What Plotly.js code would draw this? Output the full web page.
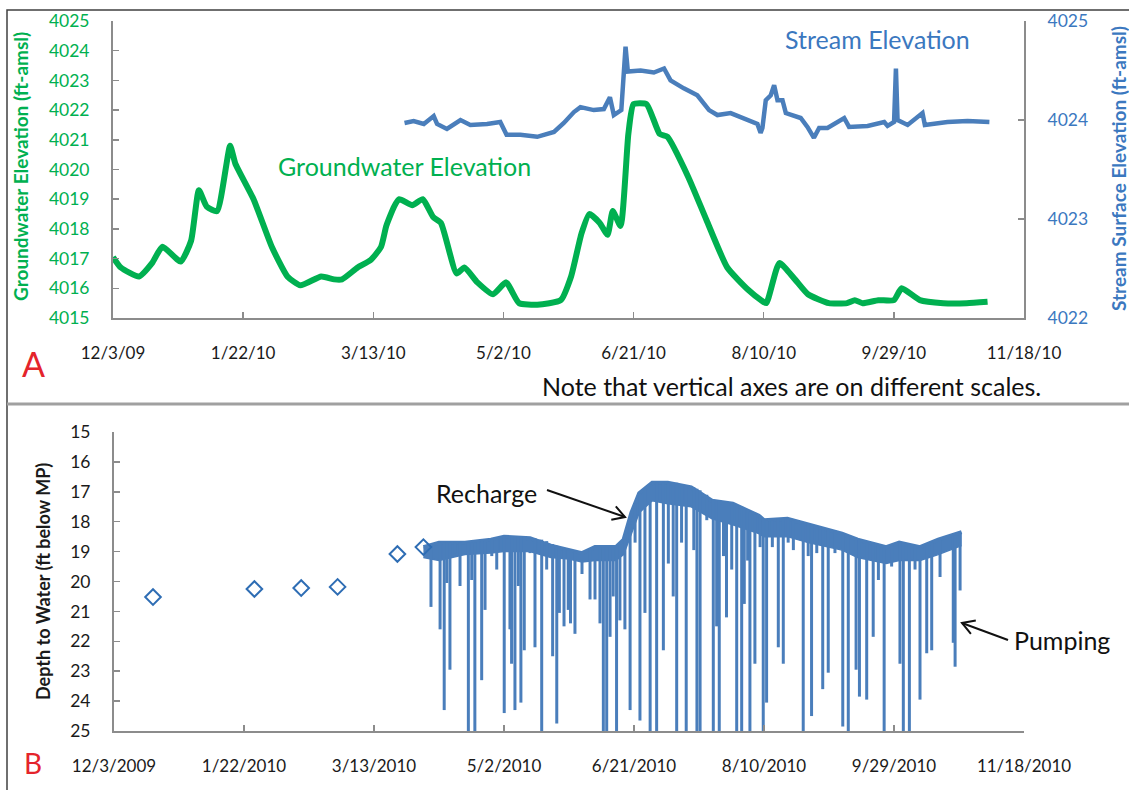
<!DOCTYPE html>
<html><head><meta charset="utf-8">
<script src="https://cdn.plot.ly/plotly-3.0.1.min.js"></script>
<style>html,body{margin:0;padding:0;background:#fff}#chart{width:1129px;height:790px}</style>
</head><body><div id="chart"></div><script>
// ---------- Panel A: groundwater elevation (left axis) ----------
var gwDates = ['2009-12-03','2009-12-06','2009-12-13','2009-12-18','2009-12-22','2009-12-29','2010-01-02','2010-01-05','2010-01-08','2010-01-12','2010-01-17','2010-01-19','2010-01-26','2010-02-02','2010-02-08','2010-02-13','2010-02-21','2010-02-26','2010-03-01','2010-03-07','2010-03-12','2010-03-16','2010-03-18','2010-03-21','2010-03-23','2010-03-28','2010-04-01','2010-04-05','2010-04-08','2010-04-14','2010-04-17','2010-04-22','2010-04-28','2010-05-03','2010-05-08','2010-05-15','2010-05-24','2010-05-28','2010-06-01','2010-06-04','2010-06-08','2010-06-11','2010-06-13','2010-06-16','2010-06-19','2010-06-21','2010-06-26','2010-07-01','2010-07-04','2010-07-12','2010-07-19','2010-07-27','2010-08-04','2010-08-09','2010-08-11','2010-08-16','2010-08-22','2010-08-27','2010-09-04','2010-09-11','2010-09-14','2010-09-17','2010-09-23','2010-09-29','2010-10-02','2010-10-09','2010-10-18','2010-10-27','2010-11-04'];
var gwElev = [4017.05,4016.7,4016.4,4016.85,4017.4,4016.9,4017.6,4019.3,4018.75,4018.6,4020.8,4020.2,4019.0,4017.4,4016.4,4016.1,4016.4,4016.3,4016.3,4016.7,4016.95,4017.4,4018.1,4018.75,4019.0,4018.8,4019.0,4018.4,4018.2,4016.5,4016.7,4016.2,4015.8,4016.2,4015.5,4015.45,4015.6,4016.4,4017.85,4018.5,4018.2,4017.8,4018.6,4018.1,4021.2,4022.2,4022.2,4021.2,4021.1,4019.75,4018.3,4016.7,4015.95,4015.6,4015.5,4016.85,4016.3,4015.8,4015.5,4015.5,4015.6,4015.5,4015.6,4015.6,4016.0,4015.6,4015.5,4015.5,4015.55];

// ---------- Panel A: stream surface elevation (right axis) ----------
var streamDates = ['2010-03-25','2010-03-28 12:00','2010-04-01 10:00','2010-04-05 05:00','2010-04-06 12:00','2010-04-10 07:00','2010-04-15 12:00','2010-04-19 07:00','2010-04-25 17:00','2010-04-30 19:00','2010-05-03 05:00','2010-05-08 12:00','2010-05-15 00:00','2010-05-21 10:00','2010-05-25 05:00','2010-05-29 02:00','2010-05-31 14:00','2010-06-05 17:00','2010-06-09 14:00','2010-06-11 22:00','2010-06-13 10:00','2010-06-16 07:00','2010-06-17 22:00','2010-06-18 19:00','2010-06-23 17:00','2010-06-28 19:00','2010-07-02 17:00','2010-07-05 05:00','2010-07-10 07:00','2010-07-15 12:00','2010-07-20 00:00','2010-07-23 05:00','2010-07-28 07:00','2010-08-03 17:00','2010-08-07 14:00','2010-08-08 19:00','2010-08-09 12:00','2010-08-10 19:00','2010-08-12 17:00','2010-08-14 00:00','2010-08-15 07:00','2010-08-17 05:00','2010-08-18 12:00','2010-08-24 05:00','2010-08-26 19:00','2010-08-29 07:00','2010-08-31 07:00','2010-09-03 12:00','2010-09-09 22:00','2010-09-11 19:00','2010-09-18 22:00','2010-09-25 07:00','2010-09-26 14:00','2010-09-29 02:00','2010-09-29 19:00','2010-09-30 10:00','2010-10-04 07:00','2010-10-10 00:00','2010-10-10 22:00','2010-10-19 14:00','2010-10-27 07:00','2010-11-04 17:00'];
var streamElev = [4023.97,4023.99,4023.96,4024.04,4023.96,4023.91,4024.0,4023.95,4023.96,4023.98,4023.85,4023.85,4023.83,4023.88,4023.97,4024.08,4024.13,4024.1,4024.11,4024.23,4024.05,4024.1,4024.74,4024.49,4024.5,4024.48,4024.52,4024.4,4024.32,4024.25,4024.1,4024.05,4024.07,4024.0,4023.96,4023.87,4023.92,4024.2,4024.25,4024.35,4024.2,4024.2,4024.07,4024.02,4023.93,4023.82,4023.92,4023.92,4024.02,4023.93,4023.94,4023.98,4023.94,4023.98,4024.52,4024.0,4023.95,4024.07,4023.95,4023.98,4023.99,4023.98];

// ---------- Panel B: manual depth-to-water measurements ----------
var manualDates = ['2009-12-18','2010-01-26','2010-02-13','2010-02-27','2010-03-22','2010-04-01'];
var manualDepth = [20.52,20.25,20.22,20.18,19.08,18.85];

// ---------- Panel B: logger, static level (top of band) and daily low (bottom of band) ----------
var staticDates = ['2010-04-01','2010-04-07','2010-04-17','2010-04-27','2010-05-02','2010-05-12','2010-05-20','2010-05-27','2010-06-01','2010-06-06','2010-06-14','2010-06-17','2010-06-20','2010-06-23','2010-06-28','2010-07-04','2010-07-13','2010-07-21','2010-07-29','2010-08-08','2010-08-10','2010-08-19','2010-08-27','2010-09-09','2010-09-15','2010-09-26','2010-10-01','2010-10-09','2010-10-16','2010-10-25'];
var staticDepth = [18.85,18.7,18.7,18.6,18.5,18.55,18.8,18.95,19.05,18.85,18.85,18.6,17.7,17.05,16.7,16.7,16.85,17.3,17.4,17.8,17.95,17.9,18.1,18.4,18.6,18.85,18.7,18.85,18.6,18.35];
var dailyLowDepth = [19.2,19.3,19.1,19.05,19.0,19.0,19.2,19.25,19.35,19.3,19.3,19.1,18.4,17.7,17.3,17.4,17.5,17.9,18.1,18.4,18.5,18.5,18.7,18.95,19.2,19.4,19.3,19.3,19.1,18.8];

// ---------- Panel B: pumping drawdowns (level before, deepest level) ----------
var pumpDates = ['2010-04-03 22:00','2010-04-07 10:00','2010-04-09 00:00','2010-04-10 00:00','2010-04-11 05:00','2010-04-13 05:00','2010-04-15 02:00','2010-04-18 07:00','2010-04-19 14:00','2010-04-20 19:00','2010-04-22 02:00','2010-04-23 10:00','2010-04-24 17:00','2010-04-27 07:00','2010-04-29 05:00','2010-04-30 19:00','2010-05-02 02:00','2010-05-04 07:00','2010-05-04 22:00','2010-05-06 05:00','2010-05-07 12:00','2010-05-08 12:00','2010-05-09 19:00','2010-05-12 00:00','2010-05-13 22:00','2010-05-15 12:00','2010-05-16 12:00','2010-05-18 10:00','2010-05-20 17:00','2010-05-22 07:00','2010-05-23 07:00','2010-05-25 02:00','2010-05-26 17:00','2010-05-27 14:00','2010-05-29 07:00','2010-06-01 00:00','2010-06-04 02:00','2010-06-06 00:00','2010-06-07 22:00','2010-06-09 05:00','2010-06-10 12:00','2010-06-11 19:00','2010-06-13 00:00','2010-06-14 07:00','2010-06-15 14:00','2010-06-17 12:00','2010-06-19 12:00','2010-06-21 10:00','2010-06-23 07:00','2010-06-25 05:00','2010-06-27 05:00','2010-06-29 17:00','2010-07-02 07:00','2010-07-04 05:00','2010-07-06 02:00','2010-07-07 10:00','2010-07-09 07:00','2010-07-11 02:00','2010-07-14 00:00','2010-07-15 05:00','2010-07-16 10:00','2010-07-19 00:00','2010-07-21 12:00','2010-07-22 19:00','2010-07-23 19:00','2010-07-25 10:00','2010-07-26 14:00','2010-07-28 14:00','2010-07-30 12:00','2010-08-01 10:00','2010-08-02 10:00','2010-08-03 17:00','2010-08-04 14:00','2010-08-06 12:00','2010-08-08 12:00','2010-08-09 17:00','2010-08-11 00:00','2010-08-13 05:00','2010-08-15 12:00','2010-08-17 10:00','2010-08-19 07:00','2010-08-21 07:00','2010-08-25 02:00','2010-08-27 00:00','2010-08-28 07:00','2010-08-30 07:00','2010-09-01 14:00','2010-09-03 17:00','2010-09-06 07:00','2010-09-09 07:00','2010-09-11 10:00','2010-09-14 10:00','2010-09-15 17:00','2010-09-18 12:00','2010-09-21 00:00','2010-09-23 00:00','2010-09-25 05:00','2010-09-28 02:00','2010-10-01 07:00','2010-10-02 14:00','2010-10-04 22:00','2010-10-07 02:00','2010-10-09 00:00','2010-10-11 14:00','2010-10-13 12:00','2010-10-16 17:00','2010-10-21 19:00','2010-10-22 12:00','2010-10-24 10:00'];
var pumpTop = [18.75,18.7,18.7,18.7,18.7,18.7,18.7,18.7,18.7,18.7,18.65,18.65,18.65,18.6,18.55,18.5,18.5,18.5,18.5,18.5,18.5,18.5,18.5,18.55,18.55,18.6,18.6,18.65,18.75,18.8,18.85,18.9,18.95,18.95,19.0,19.0,18.9,18.85,18.85,18.85,18.85,18.85,18.85,18.85,18.75,18.6,18.1,17.4,17.05,16.9,16.75,16.7,16.7,16.7,16.7,16.7,16.75,16.8,16.85,16.9,16.95,17.1,17.3,17.3,17.3,17.35,17.35,17.4,17.45,17.5,17.55,17.6,17.65,17.75,17.8,17.9,17.95,17.95,17.9,17.9,17.9,17.95,18.05,18.1,18.1,18.15,18.2,18.25,18.3,18.4,18.45,18.55,18.6,18.7,18.75,18.8,18.85,18.8,18.7,18.7,18.75,18.8,18.85,18.8,18.7,18.6,18.45,18.45,18.4];
var pumpDepth = [20.85,21.6,24.3,20.05,22.95,19.05,20.15,25.5,19.95,25.5,19.0,23.3,20.95,19.15,19.6,18.95,24.4,21.6,22.75,24.3,20.15,24.05,22.3,19.05,22.2,19.05,25.5,19.6,22.5,24.75,21.05,21.5,20.95,21.4,21.75,19.75,20.6,20.6,21.4,25.5,25.5,21.85,20.5,25.5,21.3,21.6,24.3,18.7,24.65,21.05,25.5,25.5,22.3,19.4,20.5,25.5,18.7,25.5,18.95,25.5,25.5,17.95,25.5,21.5,25.5,19.15,21.2,19.6,25.5,25.5,20.75,19.3,25.5,22.75,18.85,25.5,24.05,18.85,22.2,22.75,18.7,18.95,25.5,19.15,24.5,19.05,23.6,23.05,19.05,24.85,25.5,22.95,23.85,23.95,21.85,19.95,25.5,19.5,22.75,25.5,25.5,19.6,23.95,22.4,22.3,19.85,22.05,22.85,20.3];

// axis tick settings
var tickStart = '2009-12-03';
var tickStepDays = 50;
var xRange = ['2009-12-03','2010-11-18'];

// ---------- build ----------
var W = 1129, H = 790;
function px(x){ return x / W; }
function py(y){ return 1 - y / H; }

var spikeX = [], spikeY = [];
for (var i = 0; i < pumpDates.length; i++) {
  spikeX.push(pumpDates[i], pumpDates[i], null);
  spikeY.push(pumpTop[i], pumpDepth[i], null);
}

var GREEN = '#00B050', BLUE = '#4A7EBB', AXIS = '#8C8C8C', FONT = 'Lato, "Open Sans", sans-serif';

var traces = [
  {x: gwDates, y: gwElev, xaxis: 'x', yaxis: 'y', mode: 'lines', line: {color: GREEN, width: 6, shape: 'spline', smoothing: 0.5}, hoverinfo: 'skip'},
  {x: streamDates, y: streamElev, xaxis: 'x', yaxis: 'y2', mode: 'lines', line: {color: BLUE, width: 4.5}, hoverinfo: 'skip'},
  {x: staticDates, y: dailyLowDepth, xaxis: 'x2', yaxis: 'y3', mode: 'lines', line: {color: BLUE, width: 1.5}, hoverinfo: 'skip'},
  {x: staticDates, y: staticDepth, xaxis: 'x2', yaxis: 'y3', mode: 'lines', fill: 'tonexty', fillcolor: BLUE, line: {color: BLUE, width: 4}, hoverinfo: 'skip'},
  {x: spikeX, y: spikeY, xaxis: 'x2', yaxis: 'y3', mode: 'lines', line: {color: BLUE, width: 3}, connectgaps: false, hoverinfo: 'skip'},
  {x: manualDates, y: manualDepth, xaxis: 'x2', yaxis: 'y3', mode: 'markers', marker: {symbol: 'diamond-open', size: 12, color: '#2E6DB4', line: {width: 2, color: '#2E6DB4'}}, hoverinfo: 'skip'}
];

function xAxis(dom, anchor, fmt) {
  return {domain: dom, anchor: anchor, type: 'date', range: xRange, tick0: tickStart, dtick: tickStepDays * 86400000,
    tickformat: fmt, ticks: 'inside', ticklen: 6, tickwidth: 1.5, tickcolor: AXIS, showline: true, linecolor: AXIS, linewidth: 2,
    showgrid: false, zeroline: false, automargin: false, ticklabelstandoff: 19,
    tickfont: {family: FONT, size: 17, color: '#1a1a1a'}};
}
function yAxis(dom, range, color, extra) {
  var a = {domain: dom, range: range, dtick: 1, ticks: 'inside', ticklen: 6, tickwidth: 1.5, tickcolor: AXIS,
    showline: true, linecolor: AXIS, linewidth: 2, showgrid: false, zeroline: false, automargin: false,
    ticklabelstandoff: 18, tickfont: {family: FONT, size: 17.5, color: color}};
  for (var k in extra) a[k] = extra[k];
  return a;
}

function ann(x, y, text, size, color, extra) {
  var a = {xref: 'paper', yref: 'paper', x: px(x), y: py(y), text: text, showarrow: false,
    xanchor: 'center', yanchor: 'middle', font: {family: FONT, size: size, color: color}};
  for (var k in extra) a[k] = extra[k];
  return a;
}

function pathShape(pts, color, width) {
  var d = pts.map(function(p, i){ return (i ? 'L' : 'M') + px(p[0]) + ',' + py(p[1]); }).join(' ');
  return {type: 'path', xref: 'paper', yref: 'paper', path: d, line: {color: color, width: width}};
}

var layout = {
  width: W, height: H, margin: {l: 0, r: 0, t: 0, b: 0}, paper_bgcolor: '#fff', plot_bgcolor: 'rgba(0,0,0,0)',
  showlegend: false, font: {family: FONT},
  xaxis: xAxis([px(113), px(1024)], 'y', '%-m/%-d/%y'),
  yaxis: yAxis([py(318), py(21)], [4015, 4025], GREEN, {anchor: 'x'}),
  yaxis2: yAxis([py(318), py(21)], [4022, 4025], '#3B78BF', {anchor: 'x', overlaying: 'y', side: 'right'}),
  xaxis2: xAxis([px(114), px(1024)], 'y3', '%-m/%-d/%Y'),
  yaxis3: yAxis([py(731), py(432)], [25, 15], '#1a1a1a', {anchor: 'x2'}),
  annotations: [
    ann(20, 167, '<b>Groundwater Elevation (ft-amsl)</b>', 19, GREEN, {textangle: -90}),
    ann(1118, 169, '<b>Stream Surface Elevation (ft-amsl)</b>', 19, '#3B78BF', {textangle: -90}),
    ann(43, 582, '<b>Depth to Water (ft below MP)</b>', 18, '#1a1a1a', {textangle: -90}),
    ann(404, 166, 'Groundwater Elevation', 25, GREEN),
    ann(877, 39, 'Stream Elevation', 25, '#3B78BF'),
    ann(791, 386, 'Note that vertical axes are on different scales.', 25, '#111'),
    ann(33, 363, 'A', 34, '#E4242B'),
    ann(33, 763, 'B', 28, '#E4242B'),
    ann(486, 493, 'Recharge', 25, '#111'),
    ann(1062, 640, 'Pumping', 25, '#111')
  ],
  shapes: [
    pathShape([[7, 790], [7, 10], [1129, 10]], '#404040', 1.5),
    pathShape([[7, 404], [1129, 404]], '#A0A0A0', 3),
    pathShape([[547, 490], [625, 517]], '#111', 2),
    pathShape([[615.8, 506.4], [625, 517], [611.3, 519.7]], '#111', 2),
    pathShape([[1008, 640], [962, 623]], '#111', 2),
    pathShape([[970.9, 633.8], [962, 623], [975.8, 620.6]], '#111', 2)
  ]
};

Plotly.newPlot('chart', traces, layout, {staticPlot: true, displayModeBar: false});
</script></body></html>
